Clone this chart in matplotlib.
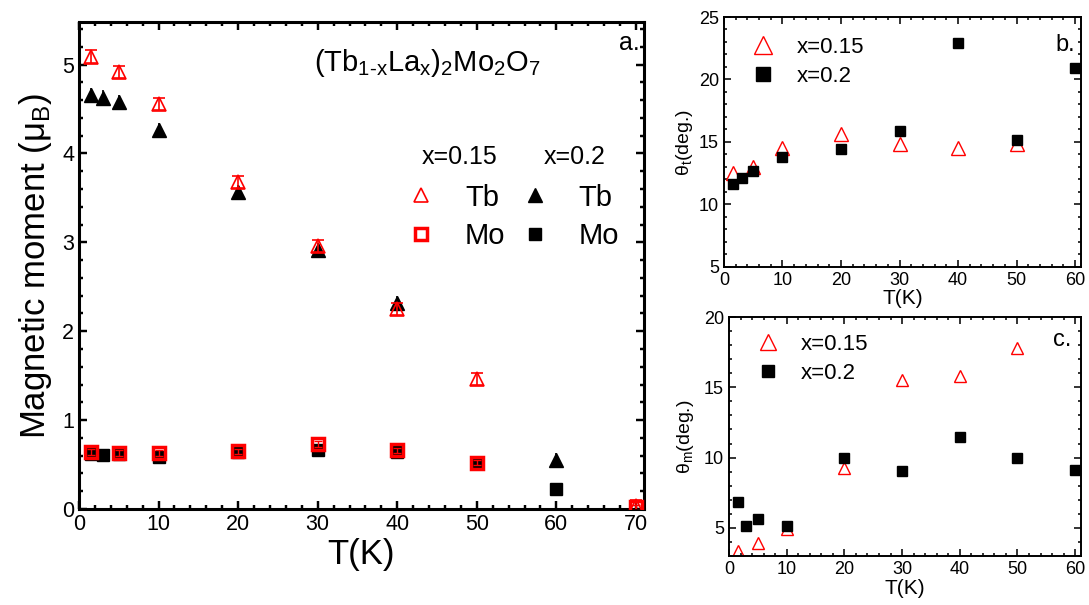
"""
Magnetic moments and canting angles of (Tb1-xLax)2Mo2O7, x=0.15 and x=0.2.
"""

import matplotlib
matplotlib.use('Agg')
import matplotlib.pyplot as plt
from matplotlib.ticker import MultipleLocator

plt.rcParams['font.family'] = ['Liberation Sans', 'DejaVu Sans']
plt.rcParams['mathtext.fontset'] = 'custom'
plt.rcParams['mathtext.rm'] = 'Liberation Sans'
plt.rcParams['mathtext.it'] = 'Liberation Sans'
plt.rcParams['mathtext.default'] = 'regular'

# ---------------------------------------------------------------------------
# Data
# ---------------------------------------------------------------------------
# panel a: ordered moments
T_tb_015 = [1.5, 5, 10, 20, 30, 40, 50, 70]
tb_015 = [5.09, 4.92, 4.56, 3.68, 2.96, 2.25, 1.46, 0.03]
T_mo_015 = [1.5, 5, 10, 20, 30, 40, 50, 70]
mo_015 = [0.64, 0.63, 0.63, 0.65, 0.73, 0.66, 0.52, 0.02]
T_tb_02 = [1.5, 3, 5, 10, 20, 30, 40, 60]
tb_02 = [4.66, 4.63, 4.58, 4.26, 3.57, 2.91, 2.32, 0.55]
T_mo_02 = [1.5, 3, 5, 10, 20, 30, 40, 50, 60]
mo_02 = [0.62, 0.61, 0.62, 0.58, 0.64, 0.66, 0.64, 0.52, 0.23]

# panel b: theta_t
T_b015 = [1.5, 5, 10, 20, 30, 40, 50]
th_t_015 = [12.5, 13.0, 14.5, 15.65, 14.8, 14.5, 14.85]
T_b02 = [1.5, 3, 5, 10, 20, 30, 40, 50, 60]
th_t_02 = [11.65, 12.1, 12.7, 13.8, 14.4, 15.85, 22.9, 15.15, 20.95]

# panel c: theta_m
T_c015 = [1.5, 5, 10, 20, 30, 40, 50]
th_m_015 = [3.35, 3.95, 4.95, 9.25, 15.5, 15.8, 17.8]
T_c02 = [1.5, 3, 5, 10, 20, 30, 40, 50, 60]
th_m_02 = [6.85, 5.1, 5.65, 5.15, 10.0, 9.05, 11.45, 10.0, 9.1]

RED = "#ff0000"


def style_axes(ax, lw, major, minor, fs):
    for s in ax.spines.values():
        s.set_linewidth(lw)
    ax.tick_params(which="both", direction="in", top=True, right=True,
                   width=lw * 0.8, labelsize=fs)
    ax.tick_params(which="major", length=major)
    ax.tick_params(which="minor", length=minor)


fig = plt.figure(figsize=(10.89, 6.05), dpi=100)

# ---------------------------------------------------------------------------
# Panel a
# ---------------------------------------------------------------------------
ax = fig.add_axes([0.0725, 0.1587, 0.5188, 0.805])
ax.errorbar(T_tb_02, tb_02, yerr=0.08, fmt="none", ecolor="black",
            elinewidth=1.2, capsize=0, zorder=2)
h_tb02, = ax.plot(T_tb_02, tb_02, "^", color="black", ms=10, ls="none",
                  zorder=3, label="Tb")
ax.errorbar(T_mo_02, mo_02, yerr=0.04, fmt="none", ecolor="black",
            elinewidth=1.2, capsize=0, zorder=2)
h_mo02, = ax.plot(T_mo_02, mo_02, "s", color="black", ms=9, ls="none",
                  zorder=3, label="Mo")
h_tb015, = ax.plot(T_tb_015, tb_015, "^", mfc="none", mec=RED, mew=1.2,
                   ms=10, ls="none", zorder=4, label="Tb")
ax.errorbar(T_tb_015, tb_015, yerr=0.07, fmt="none", ecolor=RED,
            elinewidth=1.2, capsize=4, capthick=1.2, zorder=5)
h_mo015, = ax.plot(T_mo_015, mo_015, "s", mfc="none", mec=RED, mew=2.5,
                   ms=9, ls="none", zorder=4, label="Mo")
ax.errorbar(T_mo_015, mo_015, yerr=0.03, fmt="none", ecolor=RED,
            elinewidth=1.0, capsize=3, capthick=1.0, zorder=5)

ax.set_xlim(0, 71)
ax.set_ylim(0, 5.48)
ax.xaxis.set_major_locator(MultipleLocator(10))
ax.xaxis.set_minor_locator(MultipleLocator(2))
ax.yaxis.set_major_locator(MultipleLocator(1))
ax.yaxis.set_minor_locator(MultipleLocator(0.2))
style_axes(ax, 2.2, 6, 3, 15.5)
ax.set_xlabel("T(K)", fontsize=25, labelpad=2)
ax.set_ylabel(r"Magnetic moment ($\mu_B$)", fontsize=25, labelpad=6)

ax.text(0.617, 0.916, r"(Tb$_{1\text{-}x}$La$_x$)$_2$Mo$_2$O$_7$",
        transform=ax.transAxes, ha="center", va="center", fontsize=21)
ax.text(0.993, 0.957, "a.", transform=ax.transAxes, ha="right",
        va="center", fontsize=18)
ax.text(0.673, 0.723, "x=0.15", transform=ax.transAxes, ha="center",
        va="center", fontsize=18)
ax.text(0.878, 0.723, "x=0.2", transform=ax.transAxes, ha="center",
        va="center", fontsize=18)
ax.legend([h_tb015, h_mo015, h_tb02, h_mo02], ["Tb", "Mo", "Tb", "Mo"],
          ncol=2, loc="upper left", bbox_to_anchor=(0.575, 0.668),
          frameon=False, fontsize=21, handletextpad=0.9, columnspacing=0.4,
          labelspacing=0.35, handlelength=1.2, borderpad=0, borderaxespad=0)

# ---------------------------------------------------------------------------
# Panel b
# ---------------------------------------------------------------------------
ax = fig.add_axes([0.6648, 0.5587, 0.3278, 0.4132])
ax.plot(T_b015, th_t_015, "^", mfc="none", mec=RED, mew=1.0, ms=9.5,
        ls="none", label="x=0.15")
ax.plot(T_b02, th_t_02, "s", color="black", ms=7.5, ls="none",
        label="x=0.2")
ax.set_xlim(0, 61)
ax.set_ylim(5, 25)
ax.xaxis.set_major_locator(MultipleLocator(10))
ax.xaxis.set_minor_locator(MultipleLocator(2))
ax.yaxis.set_major_locator(MultipleLocator(5))
ax.yaxis.set_minor_locator(MultipleLocator(1))
style_axes(ax, 1.4, 5, 2.5, 13)
ax.set_xlabel("T(K)", fontsize=15, labelpad=0)
ax.set_ylabel(r"θ$_t$(deg.)", fontsize=14, labelpad=3)
ax.text(0.983, 0.888, "b.", transform=ax.transAxes, ha="right",
        va="center", fontsize=17)
ax.legend(loc="upper left", bbox_to_anchor=(0.06, 0.92), frameon=False,
          fontsize=16, handletextpad=0.7, labelspacing=0.35, markerscale=1.3,
          handlelength=1.6, borderpad=0, borderaxespad=0)

# ---------------------------------------------------------------------------
# Panel c
# ---------------------------------------------------------------------------
ax = fig.add_axes([0.6694, 0.0810, 0.3232, 0.395])
ax.plot(T_c015, th_m_015, "^", mfc="none", mec=RED, mew=1.0, ms=9,
        ls="none", label="x=0.15")
ax.plot(T_c02, th_m_02, "s", color="black", ms=7, ls="none",
        label="x=0.2")
ax.set_xlim(0, 61)
ax.set_ylim(3, 20)
ax.xaxis.set_major_locator(MultipleLocator(10))
ax.xaxis.set_minor_locator(MultipleLocator(2))
ax.yaxis.set_major_locator(MultipleLocator(5))
ax.yaxis.set_minor_locator(MultipleLocator(1))
style_axes(ax, 1.4, 5, 2.5, 13)
ax.set_xlabel("T(K)", fontsize=15, labelpad=1)
ax.set_ylabel(r"θ$_m$(deg.)", fontsize=14, labelpad=6)
ax.text(0.974, 0.904, "c.", transform=ax.transAxes, ha="right",
        va="center", fontsize=17)
ax.legend(loc="upper left", bbox_to_anchor=(0.06, 0.93), frameon=False,
          fontsize=16, handletextpad=0.7, labelspacing=0.35, markerscale=1.3,
          handlelength=1.6, borderpad=0, borderaxespad=0)

fig.savefig("out.png", dpi=100)
plt.close(fig)
